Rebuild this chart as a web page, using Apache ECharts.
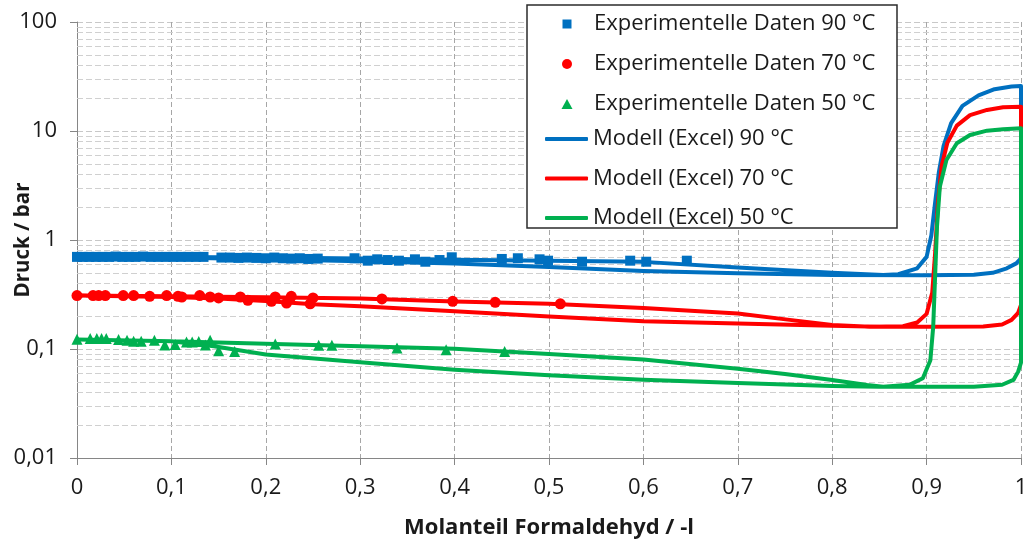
<!DOCTYPE html>
<html>
<head>
<meta charset="utf-8">
<script src="https://cdn.jsdelivr.net/npm/echarts@6/dist/echarts.min.js"></script>
<style>
  html, body { margin: 0; padding: 0; background: #fff; }
  #main { width: 1034px; height: 543px; }
</style>
</head>
<body>
<div id="main"></div>
<script>
// Experimentelle Daten (Molanteil, Druck in bar)
var exp90X = [0, 0.006, 0.013, 0.02, 0.027, 0.034, 0.041, 0.048, 0.055, 0.062, 0.07, 0.078, 0.086, 0.094, 0.102, 0.11, 0.118, 0.126, 0.134,
  0.153, 0.162, 0.171, 0.18, 0.19, 0.2, 0.209, 0.218, 0.227, 0.236, 0.245, 0.255,
  0.294, 0.308, 0.318, 0.329, 0.341, 0.358, 0.369, 0.384, 0.397, 0.45, 0.467, 0.49, 0.499, 0.535, 0.586, 0.603, 0.646];
var exp90Y = [0.70, 0.70, 0.70, 0.70, 0.70, 0.70, 0.705, 0.70, 0.70, 0.70, 0.705, 0.70, 0.70, 0.70, 0.70, 0.70, 0.70, 0.70, 0.70,
  0.69, 0.69, 0.685, 0.69, 0.685, 0.68, 0.69, 0.68, 0.675, 0.68, 0.67, 0.675,
  0.68, 0.646, 0.665, 0.655, 0.646, 0.665, 0.632, 0.655, 0.694, 0.67, 0.68, 0.665, 0.646, 0.632, 0.646, 0.632, 0.646];

var exp70X = [0, 0.017, 0.023, 0.03, 0.049, 0.06, 0.077, 0.095, 0.107, 0.111, 0.13, 0.141, 0.15, 0.173, 0.181, 0.206, 0.21, 0.222, 0.227, 0.247, 0.25,
  0.323, 0.398, 0.443, 0.512];
var exp70Y = [0.309, 0.309, 0.309, 0.309, 0.309, 0.309, 0.304, 0.309, 0.304, 0.30, 0.309, 0.30, 0.294, 0.30, 0.28, 0.274, 0.30, 0.264, 0.304, 0.26, 0.294,
  0.288, 0.274, 0.268, 0.26];

var exp50X = [0, 0.014, 0.021, 0.026, 0.031, 0.044, 0.053, 0.06, 0.068, 0.082, 0.093, 0.104, 0.116, 0.122, 0.129, 0.136, 0.141, 0.15, 0.167,
  0.21, 0.256, 0.27, 0.339, 0.391, 0.453];
var exp50Y = [0.123, 0.125, 0.125, 0.125, 0.125, 0.122, 0.12, 0.118, 0.118, 0.12, 0.109, 0.11, 0.116, 0.116, 0.117, 0.109, 0.12, 0.0965, 0.095,
  0.111, 0.108, 0.108, 0.102, 0.0985, 0.095];

// Modell (Excel): Taulinie von 0 bis 1, dann Siedelinie zurueck von 1 bis 0
var model90X = [0, 0.1, 0.2, 0.3, 0.4, 0.5, 0.6, 0.7, 0.8, 0.9, 0.95, 0.97, 0.985, 0.995, 1,
  1, 0.99, 0.972, 0.955, 0.938, 0.926, 0.918, 0.913, 0.909, 0.905, 0.9, 0.89, 0.87, 0.854, 0.8, 0.7, 0.6, 0.5, 0.4, 0.3, 0.2, 0.1, 0];
var model90Y = [0.70, 0.69, 0.665, 0.64, 0.61, 0.565, 0.52, 0.495, 0.478, 0.475, 0.48, 0.5, 0.55, 0.61, 0.68,
  25.9, 25.6, 24.2, 21.2, 17, 11.8, 7.3, 4.2, 2.2, 1.1, 0.7, 0.55, 0.485, 0.477, 0.5, 0.56, 0.63, 0.645, 0.66, 0.675, 0.69, 0.70, 0.70];

var model70X = [0, 0.1, 0.15, 0.2, 0.25, 0.3, 0.4, 0.5, 0.6, 0.7, 0.8, 0.85, 0.9, 0.96, 0.98, 0.99, 0.997, 1,
  1, 0.981, 0.964, 0.946, 0.932, 0.922, 0.916, 0.912, 0.909, 0.906, 0.9, 0.89, 0.875, 0.84, 0.8, 0.755, 0.7, 0.6, 0.5, 0.4, 0.3, 0.2, 0.1, 0];
var model70Y = [0.31, 0.30, 0.29, 0.276, 0.258, 0.247, 0.222, 0.199, 0.18, 0.171, 0.163, 0.16, 0.16, 0.161, 0.168, 0.185, 0.215, 0.254,
  16.7, 16.5, 15.6, 14.0, 11.2, 7.8, 4.8, 2.2, 0.75, 0.33, 0.21, 0.175, 0.162, 0.16, 0.166, 0.185, 0.212, 0.238, 0.26, 0.273, 0.29, 0.298, 0.305, 0.31];

var model50X = [0, 0.1, 0.145, 0.2, 0.3, 0.4, 0.5, 0.6, 0.7, 0.8, 0.85, 0.95, 0.98, 0.992, 0.997, 1,
  1, 0.981, 0.964, 0.946, 0.932, 0.921, 0.914, 0.911, 0.909, 0.907, 0.904, 0.896, 0.882, 0.854, 0.837, 0.8, 0.75, 0.7, 0.6, 0.5, 0.4, 0.3, 0.2, 0.1, 0];
var model50Y = [0.122, 0.118, 0.106, 0.089, 0.0755, 0.0646, 0.0574, 0.0523, 0.0488, 0.0458, 0.0451, 0.0451, 0.047, 0.052, 0.062, 0.075,
  10.6, 10.4, 10.07, 9.19, 7.71, 5.42, 3.08, 1.32, 0.46, 0.16, 0.079, 0.054, 0.047, 0.0451, 0.0468, 0.052, 0.059, 0.066, 0.08, 0.09, 0.1006, 0.106, 0.112, 0.118, 0.122];

var expNames = ['Experimentelle Daten 90 °C', 'Experimentelle Daten 70 °C', 'Experimentelle Daten 50 °C'];
var modelNames = ['Modell (Excel) 90 °C', 'Modell (Excel) 70 °C', 'Modell (Excel) 50 °C'];
var colors = ['#0070C0', '#FF0000', '#00B050'];

function pairs(xs, ys) {
  return xs.map(function(x, i) { return [x, ys[i]]; });
}

// Hilfslinien fuer das logarithmische Raster (2..9 je Dekade)
var minorValues = [];
[0.01, 0.1, 1, 10].forEach(function(d) {
  for (var k = 2; k <= 9; k++) minorValues.push(+(k * d).toPrecision(3));
});

// Legendensymbole: kleine Marker mittig in einem 44x10 Feld
var iconSquare = 'path://M0 0M44 10M17.5 0.5L26.5 0.5L26.5 9.5L17.5 9.5Z';
var iconTriangle = 'path://M0 0M44 10M22 0L27.5 10L16.5 10Z';

var FONT = 'Open Sans';
var TXT = '#1a1a1a';

var myChart = echarts.init(document.getElementById('main'));

var option = {
  animation: false,
  textStyle: { fontFamily: FONT },
  grid: { left: 77, right: 13, top: 22, bottom: 85, outerBoundsMode: 'none', containLabel: false },
  xAxis: {
    type: 'value',
    min: 0,
    max: 1,
    interval: 0.1,
    name: 'Molanteil Formaldehyd / -l',
    nameLocation: 'middle',
    nameGap: 59,
    nameMoveOverlap: false,
    nameTextStyle: { fontFamily: FONT, fontWeight: 'bold', fontSize: 22, color: TXT },
    axisLine: { lineStyle: { color: '#868686', width: 1 } },
    axisTick: { show: true, length: 7, lineStyle: { color: '#868686' } },
    axisLabel: {
      fontFamily: FONT, fontSize: 22, color: TXT, margin: 19,
      formatter: function(v) { return String(Math.round(v * 10) / 10).replace('.', ','); }
    },
    splitLine: { show: true, lineStyle: { color: '#a6a6a6', type: [5, 3], width: 1 } }
  },
  yAxis: {
    type: 'log',
    logBase: 10,
    min: 0.01,
    max: 100,
    name: 'Druck / bar',
    nameLocation: 'middle',
    nameGap: 43,
    nameMoveOverlap: false,
    nameRotate: 90,
    nameTextStyle: { fontFamily: FONT, fontWeight: 'bold', fontSize: 20.5, color: TXT },
    axisLine: { show: true, lineStyle: { color: '#868686', width: 1 } },
    axisTick: { show: true, length: 7, lineStyle: { color: '#868686' } },
    axisLabel: {
      fontFamily: FONT, fontSize: 22, color: TXT, margin: 20,
      formatter: function(v) {
        var s = v >= 1 ? String(Math.round(v)) : String(Number(v.toPrecision(2)));
        return s.replace('.', ',');
      }
    },
    splitLine: { show: true, lineStyle: { color: '#c8c8c8', type: [6, 3], width: 1 } }
  },
  legend: [{
    data: [
      { name: expNames[0], icon: iconSquare },
      { name: expNames[1], icon: 'circle' },
      { name: expNames[2], icon: iconTriangle }
    ],
    orient: 'vertical',
    left: 540,
    top: 8,
    itemWidth: 44,
    itemHeight: 10,
    itemGap: 18,
    textStyle: { fontFamily: FONT, fontSize: 22, color: TXT, lineHeight: 20 },
    selectedMode: false
  }, {
    data: modelNames.map(function(n) { return { name: n, icon: 'roundRect' }; }),
    orient: 'vertical',
    left: 540,
    top: 123,
    itemWidth: 43,
    itemHeight: 4,
    itemGap: 17.5,
    symbolKeepAspect: false,
    textStyle: { fontFamily: FONT, fontSize: 22, color: TXT, lineHeight: 20 },
    selectedMode: false
  }],
  graphic: [{
    type: 'rect',
    z: 3,
    shape: { x: 527, y: 5, width: 370, height: 223 },
    style: { fill: '#fff', stroke: '#2b2b2b', lineWidth: 1.5 }
  }],
  series: [{
    type: 'line',
    name: 'minor',
    data: [],
    silent: true,
    z: 1,
    markLine: {
      silent: true,
      z: 1,
      symbol: 'none',
      label: { show: false },
      lineStyle: { color: '#d0d0d0', type: [6, 3], width: 1 },
      data: minorValues.map(function(v) { return { yAxis: v }; })
    }
  }, {
    type: 'scatter', name: expNames[0], symbol: 'rect', symbolSize: 10,
    itemStyle: { color: colors[0], opacity: 1 }, data: pairs(exp90X, exp90Y)
  }, {
    type: 'scatter', name: expNames[1], symbol: 'circle', symbolSize: 11,
    itemStyle: { color: colors[1], opacity: 1 }, data: pairs(exp70X, exp70Y)
  }, {
    type: 'scatter', name: expNames[2], symbol: 'triangle', symbolSize: 11,
    itemStyle: { color: colors[2], opacity: 1 }, data: pairs(exp50X, exp50Y)
  }, {
    type: 'line', name: modelNames[0], symbol: 'none', smooth: false,
    itemStyle: { color: colors[0] }, lineStyle: { color: colors[0], width: 4, join: 'round' },
    data: pairs(model90X, model90Y)
  }, {
    type: 'line', name: modelNames[1], symbol: 'none', smooth: false,
    itemStyle: { color: colors[1] }, lineStyle: { color: colors[1], width: 4, join: 'round' },
    data: pairs(model70X, model70Y)
  }, {
    type: 'line', name: modelNames[2], symbol: 'none', smooth: false,
    itemStyle: { color: colors[2] }, lineStyle: { color: colors[2], width: 4, join: 'round' },
    data: pairs(model50X, model50Y)
  }]
};

myChart.setOption(option);
</script>
</body>
</html>
